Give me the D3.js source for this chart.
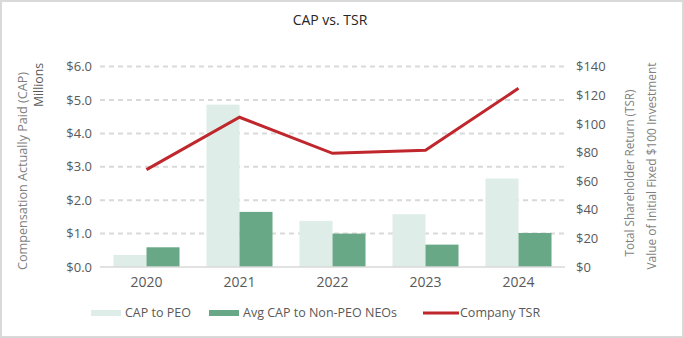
<!DOCTYPE html>
<html>
<head>
<meta charset="utf-8">
<script src="https://cdn.jsdelivr.net/npm/d3@7"></script>
<style>
  body { margin: 0; background: #fff; }
  svg text { font-family: "Open Sans", sans-serif; }
  .axis path { display: none; }
  .axis line { display: none; }
  .axis text { fill: #595959; font-size: 13px; }
</style>
</head>
<body>
<svg width="684" height="338"></svg>
<script>
var years = ["2020", "2021", "2022", "2023", "2024"];
var capPeo = [0.36, 4.86, 1.38, 1.58, 2.65];      // $ millions
var capNeo = [0.59, 1.65, 1.0, 0.67, 1.02];       // $ millions
var tsr = [68, 104.6, 79.4, 81.5, 124.8];         // value of $100
var leftTicks = [0, 1, 2, 3, 4, 5, 6];
var rightTicks = [0, 20, 40, 60, 80, 100, 120, 140];

var svg = d3.select("svg"),
    width = +svg.attr("width"),
    height = +svg.attr("height"),
    margin = {top: 66.6, right: 119, bottom: 71, left: 100},
    plotW = width - margin.left - margin.right,
    plotH = height - margin.top - margin.bottom;

// outer frame
svg.append("rect")
    .attr("x", 1).attr("y", 1)
    .attr("width", width - 2).attr("height", height - 2)
    .attr("fill", "#fff")
    .attr("stroke", "#d9d9d9")
    .attr("stroke-width", 2);

var g = svg.append("g")
    .attr("transform", "translate(" + margin.left + "," + margin.top + ")");

var x0 = d3.scaleBand().domain(years).range([0, plotW]).paddingInner(0.29).paddingOuter(0.145);
var x1 = d3.scaleBand().domain(["peo", "neo"]).range([0, x0.bandwidth()]);
var yL = d3.scaleLinear().domain([0, 6]).range([plotH, 0]);
var yR = d3.scaleLinear().domain([0, 140]).range([plotH, 0]);

// gridlines
g.append("g").selectAll("line")
    .data(leftTicks.filter(function(d) { return d > 0; }))
    .enter().append("line")
    .attr("x1", 0).attr("x2", plotW)
    .attr("y1", function(d) { return yL(d); })
    .attr("y2", function(d) { return yL(d); })
    .attr("stroke", "#d9d9d9")
    .attr("stroke-width", 2)
    .attr("stroke-dasharray", "5,4");

// bars
var groups = g.append("g").selectAll("g")
    .data(years)
    .enter().append("g")
    .attr("transform", function(d) { return "translate(" + x0(d) + ",0)"; });

groups.append("rect")
    .attr("x", x1("peo"))
    .attr("width", x1.bandwidth())
    .attr("y", function(d, i) { return yL(capPeo[i]); })
    .attr("height", function(d, i) { return plotH - yL(capPeo[i]); })
    .attr("fill", "#deede8");

groups.append("rect")
    .attr("x", x1("neo"))
    .attr("width", x1.bandwidth())
    .attr("y", function(d, i) { return yL(capNeo[i]); })
    .attr("height", function(d, i) { return plotH - yL(capNeo[i]); })
    .attr("fill", "#69a886");

// baseline
g.append("line")
    .attr("x1", 0).attr("x2", plotW)
    .attr("y1", plotH).attr("y2", plotH)
    .attr("stroke", "#d9d9d9")
    .attr("stroke-width", 1.5);

// TSR line
var line = d3.line()
    .x(function(d, i) { return x0(years[i]) + x0.bandwidth() / 2; })
    .y(function(d) { return yR(d); });

g.append("path")
    .datum(tsr)
    .attr("d", line)
    .attr("fill", "none")
    .attr("stroke", "#c0272d")
    .attr("stroke-width", 3);

// axes
g.append("g")
    .attr("class", "axis")
    .attr("transform", "translate(0," + plotH + ")")
    .call(d3.axisBottom(x0).tickSize(0).tickPadding(10))
    .selectAll("text").style("font-size", "14px");

g.append("g")
    .attr("class", "axis")
    .call(d3.axisLeft(yL).tickValues(leftTicks).tickSize(0).tickPadding(8)
        .tickFormat(function(d) { return "$" + d3.format(".1f")(d); }));

g.append("g")
    .attr("class", "axis")
    .attr("transform", "translate(" + plotW + ",0)")
    .call(d3.axisRight(yR).tickValues(rightTicks).tickSize(0).tickPadding(11)
        .tickFormat(function(d) { return "$" + d; }));

// title
svg.append("text")
    .attr("x", 330).attr("y", 25)
    .attr("text-anchor", "middle")
    .attr("fill", "#262626")
    .style("font-size", "14px")
    .text("CAP vs. TSR");

// axis titles (narrow Calibri-like look via textLength)
function vtitle(x, y, txt, size, color, len) {
  var t = svg.append("text")
      .attr("transform", "translate(" + x + "," + y + ") rotate(-90)")
      .attr("text-anchor", "middle")
      .attr("fill", color)
      .style("font-size", size)
      .text(txt);
  if (len) t.attr("textLength", len).attr("lengthAdjust", "spacingAndGlyphs");
}
vtitle(27, 171, "Compensation  Actually  Paid  (CAP)", "13px", "#7f7f7f", 198);
vtitle(43, 85, "Millions", "12px", "#595959", 44);
vtitle(634, 173, "Total Shareholder Return (TSR)", "13px", "#7f7f7f", 167);
vtitle(656, 166, "Value of Initial Fixed $100 Investment", "13px", "#7f7f7f", 207);

// legend
var legendItems = [
  {label: "CAP to PEO", color: "#deede8", x: 91, type: "rect"},
  {label: "Avg CAP to Non-PEO NEOs", color: "#69a886", x: 209, type: "rect"},
  {label: "Company TSR", color: "#c0272d", x: 423, type: "line"}
];
var lg = svg.append("g").selectAll("g")
    .data(legendItems)
    .enter().append("g")
    .attr("transform", function(d) { return "translate(" + d.x + ",313)"; });

lg.filter(function(d) { return d.type === "rect"; })
    .append("rect")
    .attr("x", 0).attr("y", -3)
    .attr("width", 30).attr("height", 6)
    .attr("fill", function(d) { return d.color; });

lg.filter(function(d) { return d.type === "line"; })
    .append("line")
    .attr("x1", 0).attr("x2", 36)
    .attr("stroke", function(d) { return d.color; })
    .attr("stroke-width", 3);

lg.append("text")
    .attr("x", function(d) { return d.type === "line" ? 37 : 34; })
    .attr("y", 4)
    .attr("fill", "#595959")
    .style("font-size", "12.5px")
    .text(function(d) { return d.label; });
</script>
</body>
</html>
